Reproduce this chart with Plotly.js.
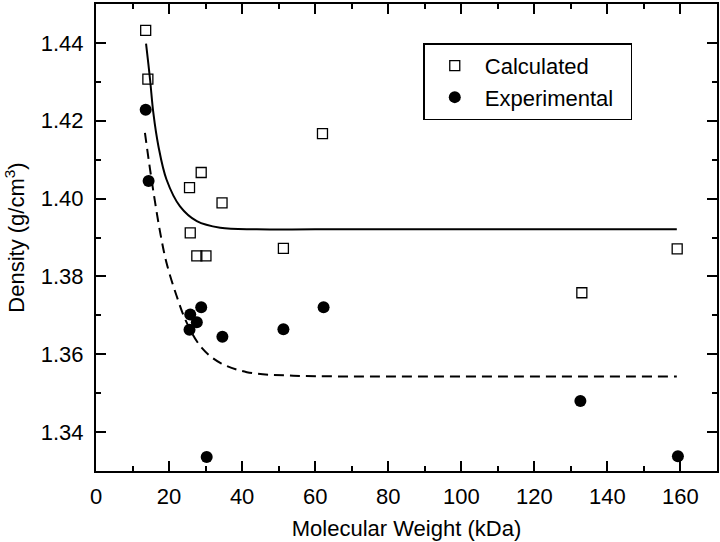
<!DOCTYPE html>
<html>
<head>
<meta charset="utf-8">
<script src="https://cdn.plot.ly/plotly-3.0.1.min.js"></script>
<style>
  html, body { margin: 0; padding: 0; background: #fff; }
  #chart { width: 720px; height: 542px; }
</style>
</head>
<body>
<div id="chart"></div>
<script>
// molecular weight (kDa) of each protein, and densities
const calcMW = [13.6, 14.2, 25.6, 28.8, 34.5, 25.8, 27.6, 30.1, 51.3, 62.0, 133.0, 159.1];
const calcDensity = [1.4432, 1.4307, 1.4028, 1.4067, 1.3989, 1.3912, 1.3853, 1.3853, 1.3872, 1.4167, 1.3758, 1.3871];

const expMW = [13.6, 14.4, 25.6, 28.8, 34.6, 25.8, 27.6, 30.3, 51.3, 62.3, 132.6, 159.3];
const expDensity = [1.4228, 1.4045, 1.3663, 1.3721, 1.3645, 1.3702, 1.3682, 1.3336, 1.3664, 1.3721, 1.3480, 1.3338];

// fitted curves
const calcFitMW = [13.7, 14.8, 15.7, 17.1, 19.3, 23.0, 27.6, 34.0, 44.0, 60, 100, 159];
const calcFitDensity = [1.4398, 1.4306, 1.4220, 1.4134, 1.4049, 1.3980, 1.3942, 1.3925, 1.3921, 1.3921, 1.3921, 1.3921];

const expFitMW = [13.4, 14.8, 16.2, 17.7, 19.3, 22.1, 24.8, 28.9, 34.0, 41.3, 54, 80, 159];
const expFitDensity = [1.4169, 1.4075, 1.3989, 1.3906, 1.3835, 1.3749, 1.3682, 1.3617, 1.3578, 1.3554, 1.3545, 1.3543, 1.3543];

const font = 'Liberation Sans, Arial, sans-serif';

const data = [
    {
        x: calcFitMW, y: calcFitDensity,
        type: 'scatter', mode: 'lines',
        line: { color: '#000', width: 2, shape: 'spline' },
        showlegend: false, hoverinfo: 'skip'
    },
    {
        x: expFitMW, y: expFitDensity,
        type: 'scatter', mode: 'lines',
        line: { color: '#000', width: 2, dash: '10px,6px', shape: 'spline' },
        showlegend: false, hoverinfo: 'skip'
    },
    {
        x: calcMW, y: calcDensity,
        type: 'scatter', mode: 'markers', name: 'Calculated\u00a0\u00a0\u00a0',
        marker: { symbol: 'square-open', size: 10, color: '#000', line: { width: 1.3, color: '#000' } }
    },
    {
        x: expMW, y: expDensity,
        type: 'scatter', mode: 'markers', name: 'Experimental\u00a0\u00a0',
        marker: { symbol: 'circle', size: 12, color: '#000' }
    }
];

const layout = {
    width: 720,
    height: 542,
    margin: { l: 96, r: 3, t: 4, b: 71 },
    paper_bgcolor: '#fff',
    plot_bgcolor: '#fff',
    font: { family: font, size: 22, color: '#000' },
    showlegend: true,
    legend: {
        x: 0.527, y: 0.916, xanchor: 'left', yanchor: 'top',
        bordercolor: '#000', borderwidth: 1.5, bgcolor: '#fff',
        font: { family: font, size: 22 },
        itemwidth: 50, tracegroupgap: 0
    },
    xaxis: {
        range: [0, 170],
        dtick: 20, tick0: 0,
        ticks: 'inside', ticklen: 10, tickwidth: 2, tickcolor: '#000',
        minor: { dtick: 10, ticks: 'inside', ticklen: 5, tickwidth: 2, tickcolor: '#000' },
        showline: true, linewidth: 2, linecolor: '#000', mirror: 'allticks',
        showgrid: false, zeroline: false,
        ticklabelstandoff: 5,
        title: { text: 'Molecular Weight (kDa)', font: { family: font, size: 22 }, standoff: 12 }
    },
    yaxis: {
        range: [1.33, 1.45],
        dtick: 0.02, tick0: 1.34, tickformat: '.2f',
        ticks: 'inside', ticklen: 10, tickwidth: 2, tickcolor: '#000',
        minor: { dtick: 0.01, ticks: 'inside', ticklen: 5, tickwidth: 2, tickcolor: '#000' },
        showline: true, linewidth: 2, linecolor: '#000', mirror: 'allticks',
        showgrid: false, zeroline: false,
        ticklabelstandoff: 6,
        title: { text: 'Density (g/cm<sup>3</sup>)', font: { family: font, size: 22 }, standoff: 10 }
    }
};

const config = { staticPlot: true, displayModeBar: false };

Plotly.newPlot('chart', data, layout, config);
</script>
</body>
</html>
